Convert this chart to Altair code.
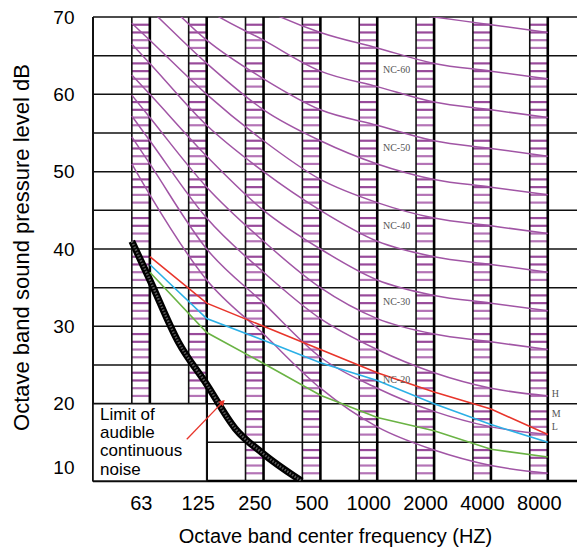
import altair as alt
import pandas as pd

# ---------------- data ----------------
bands = ["63", "125", "250", "500", "1000", "2000", "4000", "8000"]
band_pos = [0, 1, 2, 3, 4, 5, 6, 7]
start_pos = -0.317          # left edge of the 63 Hz column, where the curves begin

nc_names = ["NC-15", "NC-20", "NC-25", "NC-30", "NC-35", "NC-40",
            "NC-45", "NC-50", "NC-55", "NC-60", "NC-65", "NC-70"]
nc_start = [51, 54.5, 57.2, 59.9, 62.5, 66.5, 69.2, 73.2, 76.2, 78.9, 81.6, 84.3]
nc_values = [
    [47, 36, 29, 22, 17, 14, 12, 11],
    [51, 40, 33, 26, 22, 19, 17, 16],
    [54, 44, 37, 31, 27, 24, 22, 21],
    [57, 48, 41, 35, 31, 29, 28, 27],
    [60, 52, 45, 40, 36, 34, 33, 32],
    [64, 56, 50, 45, 41, 39, 38, 37],
    [67, 60, 54, 49, 46, 44, 43, 42],
    [71, 64, 58, 54, 51, 49, 48, 47],
    [74, 67, 62, 58, 56, 54, 53, 52],
    [77, 71, 67, 63, 61, 59, 58, 57],
    [80, 75, 71, 68, 66, 64, 63, 62],
    [83, 79, 75, 72, 71, 70, 69, 68],
]
nc_label_text = ["NC-60", "NC-50", "NC-40", "NC-30", "NC-20"]
nc_label_y = [63.2, 53.1, 43.0, 33.1, 23.0]
nc_label_x = 4.1

series_names = ["H", "M", "L"]
series_colors = ["#E8352B", "#2BB0E6", "#6AB344"]
series_values = [
    [39, 33, 30, 27, 24, 21.5, 19.3, 16],
    [38, 31, 28.2, 25.3, 23, 20, 17.3, 15],
    [37, 29.2, 25.2, 21.1, 18.2, 16.5, 14.1, 13.1],
]
series_label_y = [21.2, 18.6, 17.0]

limit_x = [-0.317, 0, 0.5, 1, 1.5, 2, 2.67]
limit_y = [41, 36, 28, 22.5, 16.8, 13.5, 10]
limit_text = ["Limit of", "audible", "continuous", "noise"]

arrow_x = [0.65, 1.28]
arrow_y = [15.4, 20.2]

y_ticks = [10, 20, 30, 40, 50, 60, 70]
grid_levels = [15, 20, 25, 30, 35, 40, 45, 50, 55, 60, 65, 70]
hatch_levels = [v for v in range(11, 70) if v % 5 != 0]

# ---------------- layout ----------------
W, H = 484, 464
COL_W = 0.317
PURPLE = "#A155A5"
FONT = "Liberation Sans"
SERIF = "Liberation Serif"

xs = alt.Scale(domain=[-1, 7.514], nice=False, zero=False)
ys = alt.Scale(domain=[10, 70], nice=False, zero=False)

label_map = "[" + ",".join("'%s'" % b for b in bands) + "][datum.value]"
x_axis = alt.Axis(values=band_pos, labelExpr=label_map, domain=False, ticks=False,
                  grid=False, labelFont=FONT, labelFontSize=20, labelColor="black",
                  labelOffset=-9, labelPadding=12, labelAngle=0,
                  title="Octave band center frequency (HZ)", titleFont=FONT,
                  titleFontSize=20, titleFontWeight="normal", titleColor="black",
                  titleX=242, titleY=61, titleBaseline="alphabetic")
y_axis = alt.Axis(values=y_ticks, domain=False, ticks=False, grid=False,
                  labelFont=FONT, labelFontSize=19, labelColor="black",
                  labelPadding=19,
                  labelOffset={"condition": {"test": "datum.value == 10", "value": -14}, "value": 0},
                  title="Octave band sound pressure level dB", titleFont=FONT,
                  titleFontSize=22, titleFontWeight="normal", titleColor="black",
                  titleX=-65, titleY=230, titleBaseline="alphabetic", titleAngle=-90)


def X(f="x"):
    return alt.X(f + ":Q", scale=xs, axis=x_axis)


def Y(f="y"):
    return alt.Y(f + ":Q", scale=ys, axis=y_axis)


one = pd.DataFrame({"a": [0]})

# hatching inside the columns
hatch_rows = []
for p in band_pos:
    for v in hatch_levels:
        hatch_rows.append({"x": p - COL_W, "x2": p, "y": v,
                           "dark": (v % 5) in (3, 4)})
hatch = pd.DataFrame(hatch_rows)
hatch_dark = alt.Chart(hatch[hatch.dark]).mark_rule(color="#984A9A", strokeWidth=2.2).encode(
    x=X(), x2="x2:Q", y=Y())
hatch_light = alt.Chart(hatch[~hatch.dark]).mark_rule(color="#B474B6", strokeWidth=2.2).encode(
    x=X(), x2="x2:Q", y=Y())

grid = alt.Chart(pd.DataFrame({"y": grid_levels})).mark_rule(color="#111", strokeWidth=1.5).encode(
    y=Y(), x=alt.value(0), x2=alt.value(W))

col_left = alt.Chart(pd.DataFrame({"x": [p - COL_W for p in band_pos]})).mark_rule(
    color="#111", strokeWidth=1.6).encode(x=X(), y=alt.value(0), y2=alt.value(H))
col_right = alt.Chart(pd.DataFrame({"x": band_pos})).mark_rule(
    color="#000", strokeWidth=2.6).encode(x=X(), y=alt.value(0), y2=alt.value(H))

left_border = alt.Chart(one).mark_rule(color="#111", strokeWidth=2).encode(
    x=alt.value(0), y=alt.value(0), y2=alt.value(H))
bottom_border = alt.Chart(one).mark_rule(color="#000", strokeWidth=2.5).encode(
    y=alt.value(H), x=alt.value(0), x2=alt.value(W))

box = alt.Chart(pd.DataFrame({"x": [-1], "x2": [1], "y": [10], "y2": [20]})).mark_rect(
    fill="white", stroke="#111", strokeWidth=1.6).encode(x=X(), x2="x2:Q", y=Y(), y2="y2:Q")

nc_rows = []
for name, s, vals in zip(nc_names, nc_start, nc_values):
    nc_rows.append({"nc": name, "x": start_pos, "y": s})
    for p, v in zip(band_pos, vals):
        nc_rows.append({"nc": name, "x": p, "y": v})
nc_lines = alt.Chart(pd.DataFrame(nc_rows)).mark_line(
    color=PURPLE, strokeWidth=1.5, interpolate="monotone", clip=True).encode(
    x=X(), y=Y(), detail="nc:N")

limit_df = pd.DataFrame({"x": limit_x, "y": limit_y})
limit_black = alt.Chart(limit_df).mark_line(color="#000", strokeWidth=7,
                                            interpolate="monotone", clip=True).encode(x=X(), y=Y())
limit_tex = alt.Chart(limit_df).mark_line(color="#5a5a5a", strokeWidth=2.5, strokeDash=[1.5, 1.5],
                                          interpolate="monotone", clip=True).encode(x=X(), y=Y())

series_layers = []
for name, col, vals in zip(series_names, series_colors, series_values):
    df = pd.DataFrame({"x": band_pos, "y": vals})
    series_layers.append(alt.Chart(df).mark_line(color=col, strokeWidth=1.6).encode(x=X(), y=Y()))

arrow_df = pd.DataFrame({"x": arrow_x, "y": arrow_y})
arrow_line = alt.Chart(arrow_df).mark_line(color="#E8352B", strokeWidth=1.3).encode(x=X(), y=Y())
arrow_head = alt.Chart(arrow_df.iloc[[1]]).mark_point(
    shape="triangle-up", filled=True, color="#E8352B", size=45, angle=45, opacity=1).encode(
    x=X(), y=Y())

limit_label = alt.Chart(pd.DataFrame({"x": [-1], "y": [20], "t": [limit_text]})).mark_text(
    align="left", baseline="top", dx=7, dy=3, font=FONT, fontSize=17, lineHeight=18.3,
    color="black").encode(x=X(), y=Y(), text="t")

nc_labels = alt.Chart(pd.DataFrame({"x": [nc_label_x] * len(nc_label_text), "y": nc_label_y,
                                    "t": nc_label_text})).mark_text(
    align="left", baseline="middle", font=SERIF, fontSize=10, color="#555").encode(
    x=X(), y=Y(), text="t")

hml_labels = alt.Chart(pd.DataFrame({"x": [7] * 3, "y": series_label_y, "t": series_names})).mark_text(
    align="left", baseline="middle", dx=4, font=SERIF, fontSize=10, color="#555").encode(
    x=X(), y=Y(), text="t")

chart = alt.layer(
    hatch_dark, hatch_light, grid, col_left, col_right, left_border, bottom_border, box,
    nc_lines, limit_black, limit_tex, *series_layers, arrow_line, arrow_head,
    limit_label, nc_labels, hml_labels
).properties(
    width=W, height=H,
    padding={"left": 85, "top": 9, "right": 0, "bottom": 70},
    autosize=alt.AutoSizeParams(type="none"),
    background="white",
).configure_view(stroke=None)

chart.save("out.html", embed_options={"renderer": "svg", "actions": False})
